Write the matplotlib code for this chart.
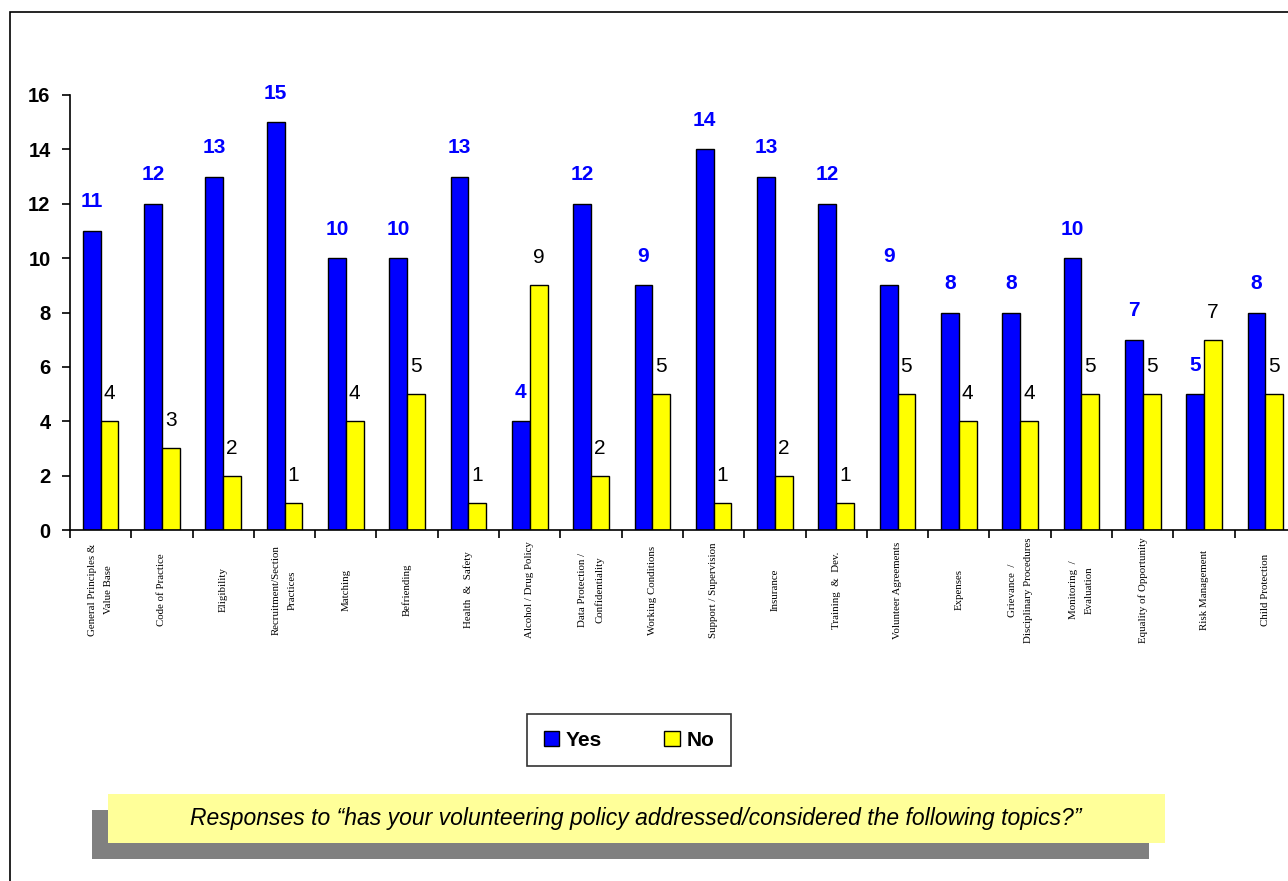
import matplotlib.pyplot as plt
import matplotlib.patches as patches
import numpy as np

topics = ['General Principles &\nValue Base', 'Code of Practice', 'Eligibility',
          'Recruitment/Section\nPractices', 'Matching', 'Befriending', 'Health  &  Safety',
          'Alcohol / Drug Policy', 'Data Protection /\nConfidentiality', 'Working Conditions',
          'Support / Supervision', 'Insurance', 'Training  &  Dev.', 'Volunteer Agreements',
          'Expenses', 'Grievance  /\nDisciplinary Procedures', 'Monitoring  /\nEvaluation',
          'Equality of Opportunity', 'Risk Management', 'Child Protection']
yes = [11, 12, 13, 15, 10, 10, 13, 4, 12, 9, 14, 13, 12, 9, 8, 8, 10, 7, 5, 8]
no = [4, 3, 2, 1, 4, 5, 1, 9, 2, 5, 1, 2, 1, 5, 4, 4, 5, 5, 7, 5]

W, H = 1288, 881
fig = plt.figure(figsize=(W / 100, H / 100), dpi=100)

# outer frame (left and top edges only visible)
fig.patches.append(patches.Rectangle((10 / W, -0.1), 1.2, (H - 12) / H + 0.1, transform=fig.transFigure,
                                     fill=False, edgecolor='black', lw=1.2))

ax = fig.add_axes([70 / W, (H - 530) / H, 1226 / W, 435 / H])
x = np.arange(len(topics))
bw = 0.29
ax.bar(x - bw / 2, yes, bw, color='#0000FF', edgecolor='black', lw=1, label='Yes')
ax.bar(x + bw / 2, no, bw, color='#FFFF00', edgecolor='black', lw=1, label='No')

for i in range(len(topics)):
    ax.annotate(str(yes[i]), (x[i] - bw / 2, yes[i]), xytext=(0, 14), textcoords='offset points',
                ha='center', va='bottom', color='#0000FF', fontsize=15, fontweight='bold',
                family='Liberation Sans')
    ax.annotate(str(no[i]), (x[i] + bw / 2, no[i]), xytext=(0, 13), textcoords='offset points',
                ha='center', va='bottom', color='black', fontsize=15, family='Liberation Sans')

ax.set_xlim(-0.5, len(topics) - 0.5)
ax.set_ylim(0, 16)
ax.set_yticks(range(0, 17, 2))
ax.set_yticklabels([str(v) for v in range(0, 17, 2)], fontsize=14.5, fontweight='bold',
                   family='Liberation Sans')
ax.set_xticks(np.arange(len(topics) + 1) - 0.5)
ax.set_xticklabels([])
ax.tick_params(axis='both', direction='out', length=6, width=1.2, colors='black')
ax.tick_params(axis='y', pad=8)
for s in ['top', 'right']:
    ax.spines[s].set_visible(False)
ax.spines['left'].set_linewidth(1.2)
ax.spines['bottom'].set_linewidth(1.2)

for i, t in enumerate(topics):
    ax.text(x[i], (530 - 590) / 435, t, transform=ax.get_xaxis_transform(), rotation=90,
            ha='center', va='center', fontsize=7.8, family='Liberation Serif', linespacing=2.0)

leg = fig.legend(loc='center', bbox_to_anchor=(629 / W, (H - 740) / H), ncol=2,
                 prop={'family': 'Liberation Sans', 'weight': 'bold', 'size': 15},
                 frameon=True, fancybox=False, edgecolor='black', handlelength=0.75,
                 handleheight=0.75, handletextpad=0.3, columnspacing=3.0,
                 borderpad=0.8, borderaxespad=0)
leg.get_frame().set_linewidth(1.2)

# caption with shadow
fig.patches.append(patches.Rectangle((92 / W, (H - 859) / H), 1057 / W, 49 / H,
                                     transform=fig.transFigure, facecolor='#808080', edgecolor='none'))
fig.patches.append(patches.Rectangle((108 / W, (H - 843) / H), 1057 / W, 49 / H,
                                     transform=fig.transFigure, facecolor='#FFFF99', edgecolor='none'))
fig.text(636 / W, (H - 818) / H,
         'Responses to \u201chas your volunteering policy addressed/considered the following topics?\u201d',
         ha='center', va='center', fontsize=16.5, style='italic', family='Liberation Sans')

fig.savefig('out.png', dpi=100)
